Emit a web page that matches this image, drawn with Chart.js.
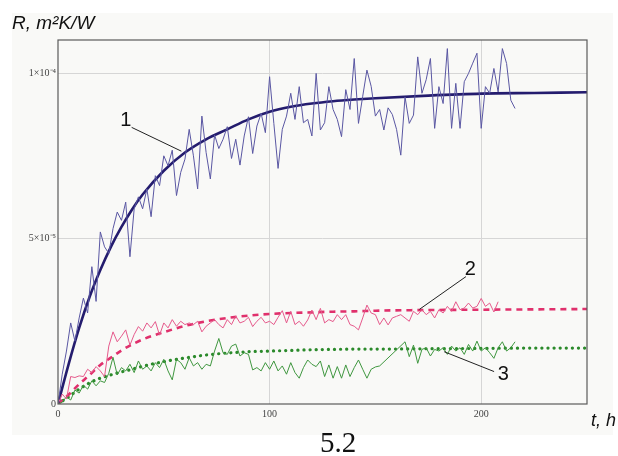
<!DOCTYPE html>
<html>
<head>
<meta charset="utf-8">
<script src="https://cdn.jsdelivr.net/npm/chart.js"></script>
<style>
  body { margin: 0; background: #fff; }
  #wrap { width: 618px; height: 456px; }
</style>
</head>
<body>
<div id="wrap"><canvas id="myChart" width="618" height="456"></canvas></div>
<script>
// R values are in units of 1e-5 m2K/W, time in hours
const times = [0, 2, 4, 6, 8, 10, 12, 14, 16, 18, 20, 22, 24, 26, 28, 30, 32, 34, 36, 38,
  40, 42, 44, 46, 48, 50, 52, 54, 56, 58, 60, 62, 64, 66, 68, 70, 72, 74, 76, 78,
  80, 82, 84, 86, 88, 90, 92, 94, 96, 98, 100, 102, 104, 106, 108, 110, 112, 114, 116, 118,
  120, 122, 124, 126, 128, 130, 132, 134, 136, 138, 140, 142, 144, 146, 148, 150, 152, 154, 156, 158,
  160, 162, 164, 166, 168, 170, 172, 174, 176, 178, 180, 182, 184, 186, 188, 190, 192, 194, 196, 198,
  200, 202, 204, 206, 208, 210, 212, 214, 216];

const measured1 = [
  0, 0.9, 1.6, 2.45, 1.9, 2.6, 3.2, 2.75, 4.15, 3.1,
  5.2, 4.75, 4.55, 5.3, 5.8, 5.55, 6.1, 4.45, 5.9, 6.26,
  5.9, 6.5, 5.66, 6.9, 6.6, 7.5, 7.2, 7.67, 6.3, 7.0,
  7.4, 8.3, 7.5, 6.5, 8.7, 7.6, 6.8, 8.13, 7.72, 8.0,
  8.38, 7.42, 8.0, 7.22, 8.1, 8.68, 7.57, 8.4, 8.78, 8.2,
  9.89, 8.48, 7.12, 8.3, 8.7, 9.39, 8.6, 9.59, 8.5, 8.6,
  8.1, 9.99, 8.28, 8.5, 9.59, 8.9, 8.6, 8.08, 9.5, 8.9,
  10.44, 8.48, 9.3, 10.09, 9.6, 8.7, 8.9, 8.28, 8.95, 8.75,
  8.3, 7.52, 9.28, 8.48, 8.73, 10.49, 9.39, 9.8, 10.44, 8.33,
  9.59, 9.08, 10.74, 8.33, 9.69, 8.33, 9.74, 9.99, 10.3, 10.6,
  8.33, 9.59, 9.39, 10.14, 9.43, 10.74, 10.29, 9.18, 8.93];

const measured2 = [
  0, 0.3, 0.15, 0.83, 0.8, 0.85, 0.83, 1.05, 0.95, 1.13,
  1.0, 0.83, 1.75, 2.18, 1.88, 2.05, 2.24, 1.78, 2.1, 2.34,
  2.2, 2.45, 2.3, 2.49, 2.08, 2.45, 2.3, 2.55, 2.35, 2.5,
  2.4, 2.45, 2.4, 2.5, 2.18, 2.35, 2.45, 2.55, 2.4, 2.3,
  2.55, 2.4, 2.66, 2.45, 2.5, 2.62, 2.34, 2.5, 2.62, 2.45,
  2.5, 2.4, 2.62, 2.82, 2.45, 2.8, 2.4, 2.5, 2.35, 2.54,
  2.84, 2.55, 2.89, 2.45, 2.55, 2.49, 2.7, 2.55, 2.7, 2.4,
  2.35, 2.24, 2.6, 2.99, 2.75, 2.7, 2.4, 2.6, 2.39, 2.6,
  2.65, 2.7, 2.6, 2.5, 2.8, 2.7, 2.85, 2.7, 2.8, 2.6,
  2.85, 2.75, 2.95, 2.8, 3.09, 2.85, 2.9, 3.05, 2.9, 2.95,
  3.19, 2.95, 3.05, 2.78, 3.09];

const measured3 = [
  0, 0.05, 0.22, 0.12, 0.42, 0.33, 0.57, 0.45, 0.7, 0.55,
  0.7, 0.65, 0.93, 1.41, 0.88, 1.1, 1.0, 1.2, 0.95, 1.3,
  1.05, 1.15, 1.0, 1.25, 1.1, 1.35, 1.0, 0.73, 1.35, 1.25,
  1.05, 1.4, 1.15, 1.25, 1.05, 1.2, 1.15, 1.6, 1.98, 1.55,
  1.5, 1.75, 1.81, 1.45, 1.55, 1.5, 1.03, 1.1, 1.0, 1.25,
  1.05, 1.3, 1.0, 1.15, 0.9, 1.25, 0.95, 0.78, 1.1, 1.33,
  1.2, 1.13, 1.3, 0.83, 1.18, 0.78, 1.13, 0.78, 1.18, 0.83,
  1.1, 1.33, 1.05, 0.78, 1.05, 1.12, 1.15, null, null, null,
  null, null, 1.88, 1.43, 1.78, 1.23, 1.65, 1.7, 1.45, 1.65,
  1.6, 1.7, 1.5, 1.75, 1.6, 1.7, 1.5, 1.8, 1.6, 1.9,
  1.6, 1.7, 1.55, 1.38, 1.7, 1.88, 1.6, 1.7, 1.88];

// fitted curves
const fitTimes = [0, 5, 10, 15, 20, 25, 30, 35, 40, 50, 60, 70, 80, 90, 100, 110, 120, 130, 140, 150, 175, 200, 225, 250];
const fit1 = [0, 1.2, 2.3, 3.25, 4.05, 4.75, 5.35, 5.88, 6.33, 7.05, 7.6, 8.0, 8.3, 8.6, 8.83, 8.98, 9.08, 9.15, 9.2, 9.24, 9.32, 9.38, 9.4, 9.42];
const fit2 = [0, 0.28, 0.6, 0.88, 1.18, 1.4, 1.62, 1.8, 1.95, 2.17, 2.36, 2.5, 2.6, 2.67, 2.72, 2.75, 2.77, 2.79, 2.8, 2.82, 2.84, 2.85, 2.86, 2.87];
const fit3 = [0, 0.22, 0.45, 0.64, 0.78, 0.88, 0.97, 1.05, 1.14, 1.28, 1.39, 1.48, 1.54, 1.58, 1.6, 1.62, 1.64, 1.65, 1.66, 1.66, 1.67, 1.68, 1.69, 1.69];

const xTicks = [0, 100, 200];
const yTicks = [0, 5, 10];
const yTickLabels = ['0', '5×10⁻⁵', '1×10⁻⁴'];

// curve labels: text position and leader line, in data units
const curveLabels = [
  { text: '1', x: 32.1, y: 8.58, from: [34.8, 8.36], to: [58.3, 7.64] },
  { text: '2', x: 194.8, y: 4.06, from: [192.8, 3.85], to: [170.8, 2.86] },
  { text: '3', x: 210.4, y: 0.89, from: [206.1, 0.98], to: [182.5, 1.58] }
];

function pairs(xs, ys) {
  return ys.map((v, i) => ({ x: xs[i], y: v }));
}

const decor = {
  id: 'decor',
  beforeDraw(chart) {
    const c = chart.ctx;
    c.save();
    c.fillStyle = '#ffffff';
    c.fillRect(0, 0, chart.width, chart.height);
    c.fillStyle = '#f9f9f7';
    c.fillRect(12, 13, 601, 422);
    c.restore();
  },
  afterDatasetsDraw(chart) {
    const c = chart.ctx;
    const a = chart.chartArea;
    const xs = chart.scales.x, ys = chart.scales.y;
    c.save();
    c.strokeStyle = '#5a5a5a';
    c.lineWidth = 1.2;
    c.strokeRect(a.left, a.top, a.right - a.left, a.bottom - a.top);

    c.fillStyle = '#111';
    c.strokeStyle = '#222';
    c.lineWidth = 1;
    c.font = '20px "Liberation Sans", Arial, sans-serif';
    c.textAlign = 'center';
    c.textBaseline = 'middle';
    curveLabels.forEach(l => {
      c.fillText(l.text, xs.getPixelForValue(l.x), ys.getPixelForValue(l.y));
      c.beginPath();
      c.moveTo(xs.getPixelForValue(l.from[0]), ys.getPixelForValue(l.from[1]));
      c.lineTo(xs.getPixelForValue(l.to[0]), ys.getPixelForValue(l.to[1]));
      c.stroke();
    });

    c.textAlign = 'left';
    c.textBaseline = 'alphabetic';
    c.font = 'italic 19px "Liberation Sans", Arial, sans-serif';
    c.fillText('R, m²K/W', 12, 29);
    c.font = 'italic 18px "Liberation Sans", Arial, sans-serif';
    c.fillText('t, h', 591, 426);
    c.textAlign = 'center';
    c.font = '29px "Liberation Serif", "Times New Roman", serif';
    c.fillText('5.2', 338, 452);
    c.restore();
  }
};

const ctx = document.getElementById('myChart').getContext('2d');
const myChart = new Chart(ctx, {
  type: 'line',
  data: {
    datasets: [
      { data: pairs(times, measured1), borderColor: '#5a57a3', borderWidth: 1, tension: 0, spanGaps: true },
      { data: pairs(times, measured2), borderColor: '#e65a8c', borderWidth: 1, tension: 0, spanGaps: true },
      { data: pairs(times, measured3), borderColor: '#3f973f', borderWidth: 1, tension: 0, spanGaps: true },
      { data: pairs(fitTimes, fit1), borderColor: '#241c6e', borderWidth: 2.6, cubicInterpolationMode: 'monotone' },
      { data: pairs(fitTimes, fit2), borderColor: '#e0306c', borderWidth: 2.6, borderDash: [6, 5], cubicInterpolationMode: 'monotone' },
      { data: pairs(fitTimes, fit3), borderColor: '#2b8a2b', borderWidth: 3.2, borderDash: [0.1, 6], borderCapStyle: 'round', cubicInterpolationMode: 'monotone' }
    ]
  },
  options: {
    responsive: false,
    animation: false,
    devicePixelRatio: 1,
    layout: { padding: { left: 0, top: 40, right: 31, bottom: 0 } },
    elements: { point: { radius: 0 } },
    plugins: {
      legend: { display: false },
      tooltip: { enabled: false }
    },
    scales: {
      x: {
        type: 'linear',
        min: 0,
        max: 250,
        afterFit: s => { s.height = 52; },
        afterBuildTicks: s => { s.ticks = xTicks.map(v => ({ value: v })); },
        border: { display: false },
        grid: { color: c => c.tick.value === 0 ? 'rgba(0,0,0,0)' : '#d6d6d6', drawTicks: false, lineWidth: 1 },
        ticks: {
          padding: 4,
          color: '#444',
          font: { family: '"Liberation Serif", serif', size: 10 },
          callback: v => String(v)
        }
      },
      y: {
        min: 0,
        max: 11,
        afterFit: s => { s.width = 58; },
        afterBuildTicks: s => { s.ticks = yTicks.map(v => ({ value: v })); },
        border: { display: false },
        grid: { color: c => c.tick.value === 0 ? 'rgba(0,0,0,0)' : '#d6d6d6', drawTicks: false, lineWidth: 1 },
        ticks: {
          padding: 2,
          color: '#444',
          font: { family: '"Liberation Serif", serif', size: 10 },
          callback: v => yTickLabels[yTicks.indexOf(v)]
        }
      }
    }
  },
  plugins: [decor]
});
</script>
</body>
</html>
